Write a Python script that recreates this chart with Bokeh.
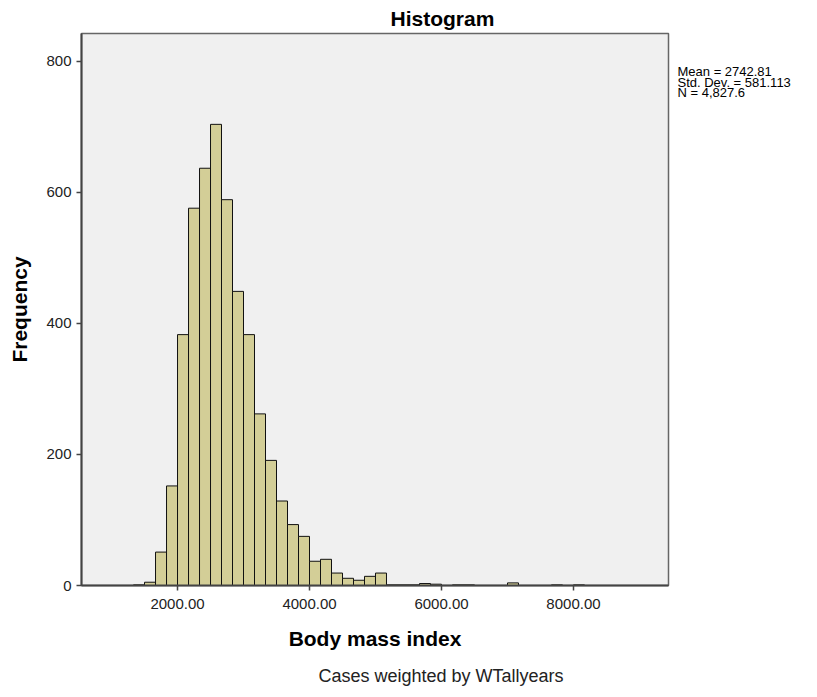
from bokeh.plotting import figure
from bokeh.models import (FixedTicker, NumeralTickFormatter, Range1d, ColumnDataSource,
                          Title, LinearAxis)
from bokeh.embed import file_html
from bokeh.resources import INLINE

# ---- data ----
bin_start = 1333.33
bin_width = 166.67
counts = [1, 5, 51, 152, 383, 576, 637, 704, 589, 449, 383, 262, 191, 129, 93, 75,
          37, 40, 19, 11, 8, 14, 19, 1, 1, 1, 3, 2, 0, 1, 1, 0, 0, 0, 4, 0, 0, 0, 1, 0, 1]
x_ticks = [2000, 4000, 6000, 8000]
y_ticks = [0, 200, 400, 600, 800]
stats_lines = ["Mean = 2742.81", "Std. Dev. = 581.113", "N = 4,827.6"]
title_text = "Histogram"
x_label = "Body mass index"
y_label = "Frequency"
footnote = "Cases weighted by WTallyears"

left = [bin_start + i * bin_width for i in range(len(counts))]
right = [l + bin_width for l in left]
src = ColumnDataSource(dict(left=left, right=right, top=counts))

FONT = "Liberation Sans"
X0, X1 = 545, 9440
Y0, Y1 = 0, 842.7

p = figure(width=817, height=697, output_backend="svg", toolbar_location=None, title=None,
           x_range=Range1d(X0, X1), y_range=Range1d(Y0, Y1),
           min_border_left=81, min_border_right=149, min_border_top=33, min_border_bottom=112)

p.quad(left="left", right="right", top="top", bottom=0, source=src,
       fill_color="#d3ce97", line_color="#111111", line_width=1)

p.background_fill_color = "#f0f0f0"
p.border_fill_color = "white"
p.outline_line_color = "#666666"
p.outline_line_width = 1.5
p.xgrid.visible = False
p.ygrid.visible = False

for ax in (p.xaxis[0], p.yaxis[0]):
    ax.axis_line_color = "#444444"
    ax.axis_line_width = 2
    ax.major_tick_line_color = "#444444"
    ax.major_tick_line_width = 1.5
    ax.major_tick_out = 5
    ax.major_tick_in = 0
    ax.minor_tick_line_color = None
    ax.major_label_text_font = FONT
    ax.major_label_text_font_size = "15px"
    ax.major_label_text_color = "#222222"
    ax.axis_label_text_font = FONT
    ax.axis_label_text_font_style = "bold"
    ax.axis_label_text_font_size = "21px"
    ax.axis_label_text_color = "black"

p.xaxis.ticker = FixedTicker(ticks=x_ticks)
p.xaxis.formatter = NumeralTickFormatter(format="0.00")
p.yaxis.ticker = FixedTicker(ticks=y_ticks)
p.xaxis.axis_label = x_label
p.yaxis.axis_label = y_label
p.xaxis.major_label_standoff = 8
p.yaxis.major_label_standoff = 5
p.xaxis.axis_label_standoff = 15
p.yaxis.axis_label_standoff = 12

# title
p.add_layout(Title(text=title_text, align="left", offset=309, standoff=8,
                   text_font=FONT, text_font_style="bold", text_font_size="21px",
                   text_color="black"), "above")
# footnote
p.add_layout(Title(text=footnote, align="left", offset=237, standoff=23,
                   text_font=FONT, text_font_style="normal", text_font_size="18px",
                   text_line_height=0.8, text_color="#222222"), "below")

# statistics box, placed as text beside the top-right of the plot frame
stat_pos = [784, 768, 752]
stats_axis = LinearAxis(ticker=FixedTicker(ticks=stat_pos),
                        major_label_overrides={v: s for v, s in zip(stat_pos, stats_lines)},
                        axis_line_color=None, major_tick_line_color=None,
                        minor_tick_line_color=None, major_label_standoff=3,
                        major_label_text_font=FONT, major_label_text_font_size="13px",
                        major_label_text_color="black")
p.add_layout(stats_axis, "right")

open("out.html", "w").write(file_html(p, INLINE))
